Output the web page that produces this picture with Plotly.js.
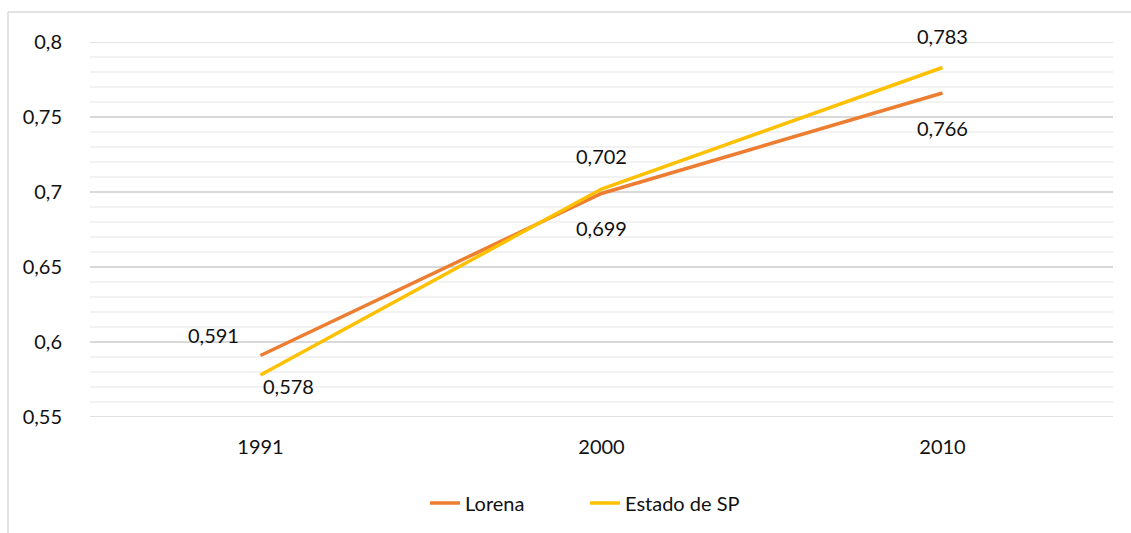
<!DOCTYPE html>
<html>
<head>
<meta charset="utf-8">
<script src="https://cdn.plot.ly/plotly-3.0.1.min.js"></script>
<style>html,body{margin:0;padding:0;background:#fff;}#chart{width:1131px;height:533px;}</style>
</head>
<body>
<div id="chart"></div>
<script>
const years = ['1991', '2000', '2010'];
const lorena = [0.591, 0.699, 0.766];
const estadoSP = [0.578, 0.702, 0.783];
const seriesNames = ['Lorena', 'Estado de SP'];
const yTicks = [0.55, 0.6, 0.65, 0.7, 0.75, 0.8];
const yTickText = ['0,55', '0,6', '0,65', '0,7', '0,75', '0,8'];

const FONT = 'Lato, "Open Sans", sans-serif';
const TXT = '#111111';
const FS = 20;

function fmt(v) { return String(v).replace('.', ','); }

const traces = [
  {x: years, y: lorena, name: seriesNames[0], type: 'scatter', mode: 'lines',
   line: {color: '#ED7D31', width: 3.5}},
  {x: years, y: estadoSP, name: seriesNames[1], type: 'scatter', mode: 'lines',
   line: {color: '#FFC000', width: 3.5}}
];

const lorShift = [[-47, 21], [0, -34], [0, -35]];
const spShift = [[28, -11], [0, 33], [0, 32]];
const annotations = [];
years.forEach((yr, i) => {
  annotations.push({x: i, y: lorena[i], xref: 'x', yref: 'y', text: fmt(lorena[i]), showarrow: false,
    xshift: lorShift[i][0], yshift: lorShift[i][1], font: {family: FONT, size: FS, color: TXT}});
  annotations.push({x: i, y: estadoSP[i], xref: 'x', yref: 'y', text: fmt(estadoSP[i]), showarrow: false,
    xshift: spShift[i][0], yshift: spShift[i][1], font: {family: FONT, size: FS, color: TXT}});
});

// chart border (left and top edges visible)
const px = v => (v - 90) / 1023;
const py = v => (418 - v) / 376;
const shapes = [
  {type: 'line', xref: 'paper', yref: 'paper', x0: px(8), x1: px(8), y0: py(12), y1: py(540),
   line: {color: '#D9D9D9', width: 1.5}},
  {type: 'line', xref: 'paper', yref: 'paper', x0: px(8), x1: px(1140), y0: py(12), y1: py(12),
   line: {color: '#D9D9D9', width: 1.5}},
  // edge gridlines (0,55 and 0,8) that Plotly omits at the range boundary
  {type: 'line', xref: 'paper', yref: 'y', x0: 0, x1: 1, y0: yTicks[0], y1: yTicks[0],
   line: {color: '#D9D9D9', width: 1.3}, layer: 'below'},
  {type: 'line', xref: 'paper', yref: 'y', x0: 0, x1: 1, y0: yTicks[yTicks.length - 1], y1: yTicks[yTicks.length - 1],
   line: {color: '#D9D9D9', width: 1.3}, layer: 'below'}
];

const layout = {
  width: 1131, height: 533,
  margin: {l: 90, r: 18, t: 42, b: 115},
  paper_bgcolor: '#fff', plot_bgcolor: '#fff',
  separators: ',.',
  font: {family: FONT, size: FS, color: TXT},
  showlegend: true,
  legend: {orientation: 'h', x: px(425), xanchor: 'left', y: py(503), yanchor: 'middle',
    entrywidth: 115, entrywidthmode: 'pixels',
    font: {family: FONT, size: FS, color: TXT}},
  xaxis: {type: 'category', categoryorder: 'array', categoryarray: years, range: [-0.5, 2.5],
    showgrid: false, zeroline: false, showline: false,
    ticks: 'outside', ticklen: 12, tickcolor: 'rgba(0,0,0,0)', tickfont: {family: FONT, size: FS, color: TXT}},
  yaxis: {range: [0.55, 0.8], tickvals: yTicks, ticktext: yTickText,
    showgrid: true, gridcolor: '#D9D9D9', gridwidth: 1.3, zeroline: false, showline: false,
    ticks: 'outside', ticklen: 23, tickcolor: 'rgba(0,0,0,0)', tickfont: {family: FONT, size: FS, color: TXT},
    minor: {dtick: 0.01, tick0: 0.55, showgrid: true, gridcolor: '#F2F2F2', gridwidth: 1.3, ticks: ''}},
  annotations: annotations,
  shapes: shapes
};

Plotly.newPlot('chart', traces, layout, {displayModeBar: false, staticPlot: true});
</script>
</body>
</html>
